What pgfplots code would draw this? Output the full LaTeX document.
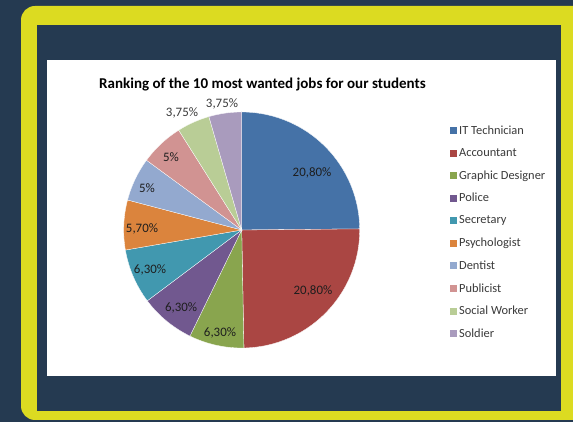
\documentclass[border=0pt]{standalone}
\usepackage{fontspec}
\setmainfont{Carlito}
\usepackage{pgfplots}
\pgfplotsset{compat=1.18}
\definecolor{navy}{HTML}{253A51}
\definecolor{yel}{HTML}{DCDB21}
\definecolor{cA}{HTML}{4572A7}
\definecolor{cB}{HTML}{AA4643}
\definecolor{cC}{HTML}{89A54E}
\definecolor{cD}{HTML}{71588F}
\definecolor{cE}{HTML}{4198AF}
\definecolor{cF}{HTML}{DB843D}
\definecolor{cG}{HTML}{93A9CF}
\definecolor{cH}{HTML}{D19392}
\definecolor{cI}{HTML}{B9CD96}
\definecolor{cJ}{HTML}{A99BBD}
\definecolor{lbl}{HTML}{1E1E1E}
\definecolor{leg}{HTML}{3A3A3A}
\begin{document}
\begin{tikzpicture}
\path[use as bounding box] (0,0) rectangle (573pt,422pt);
\clip (0,0) rectangle (573pt,422pt);
\fill[navy] (0,0) rectangle (573pt,422pt);
\fill[yel, rounded corners=14pt] (21pt,2pt) rectangle (640pt,416pt);
\fill[navy] (37pt,11pt) rectangle (561pt,397pt);
\fill[white] (47pt,46pt) rectangle (556pt,362pt);
% values (percent labels) -> angles, clockwise from 90 deg
\pgfmathsetmacro{\tot}{20.8+20.8+6.3+6.3+6.3+5.7+5+5+3.75+3.75}
\pgfmathsetmacro{\aA}{90}
\pgfmathsetmacro{\aB}{\aA-20.8*360/\tot}
\pgfmathsetmacro{\aC}{\aB-20.8*360/\tot}
\pgfmathsetmacro{\aD}{\aC-6.3*360/\tot}
\pgfmathsetmacro{\aE}{\aD-6.3*360/\tot}
\pgfmathsetmacro{\aF}{\aE-6.3*360/\tot}
\pgfmathsetmacro{\aG}{\aF-5.7*360/\tot}
\pgfmathsetmacro{\aH}{\aG-5*360/\tot}
\pgfmathsetmacro{\aI}{\aH-5*360/\tot}
\pgfmathsetmacro{\aJ}{\aI-3.75*360/\tot}
\pgfmathsetmacro{\aK}{-270}
\begin{axis}[
  at={(241.7pt,192pt)}, anchor=center,
  scale only axis, width=236pt, height=236pt,
  xmin=-1, xmax=1, ymin=-1, ymax=1,
  hide axis, clip=false,
  title={\fontsize{15}{17}\selectfont\bfseries Ranking of the 10 most wanted jobs for our students},
  title style={at={(axis description cs:0.588,1.093)}, anchor=center, text=black},
  legend cell align=left,
  legend style={draw=none, fill=none, at={(axis description cs:1.3825,0.951)}, anchor=north west,
    font=\fontsize{12.4}{14}\selectfont, text=leg, row sep=8.6pt, inner sep=0pt,
    nodes={inner sep=2pt}},
  legend image code/.code={\path[#1, draw=none] (0pt,-3.5pt) rectangle (7pt,3.5pt);},
  every axis plot/.append style={draw=white, line width=0.3pt, samples=60},
]
\addplot[fill=cA, domain=\aB:\aA] ({cos(x)},{sin(x)}) -- (axis cs:0,0) -- cycle;
\addlegendentry{IT Technician}
\addplot[fill=cB, domain=\aC:\aB] ({cos(x)},{sin(x)}) -- (axis cs:0,0) -- cycle;
\addlegendentry{Accountant}
\addplot[fill=cC, domain=\aD:\aC] ({cos(x)},{sin(x)}) -- (axis cs:0,0) -- cycle;
\addlegendentry{Graphic Designer}
\addplot[fill=cD, domain=\aE:\aD] ({cos(x)},{sin(x)}) -- (axis cs:0,0) -- cycle;
\addlegendentry{Police}
\addplot[fill=cE, domain=\aF:\aE] ({cos(x)},{sin(x)}) -- (axis cs:0,0) -- cycle;
\addlegendentry{Secretary}
\addplot[fill=cF, domain=\aG:\aF] ({cos(x)},{sin(x)}) -- (axis cs:0,0) -- cycle;
\addlegendentry{Psychologist}
\addplot[fill=cG, domain=\aH:\aG] ({cos(x)},{sin(x)}) -- (axis cs:0,0) -- cycle;
\addlegendentry{Dentist}
\addplot[fill=cH, domain=\aI:\aH] ({cos(x)},{sin(x)}) -- (axis cs:0,0) -- cycle;
\addlegendentry{Publicist}
\addplot[fill=cI, domain=\aJ:\aI] ({cos(x)},{sin(x)}) -- (axis cs:0,0) -- cycle;
\addlegendentry{Social Worker}
\addplot[fill=cJ, domain=\aK:\aJ] ({cos(x)},{sin(x)}) -- (axis cs:0,0) -- cycle;
\addlegendentry{Soldier}
\begin{scope}[every node/.style={font=\fontsize{12.9}{14}\selectfont, text=lbl}]
\node at (axis cs:0.596,0.483) {20,80\%};
\node at (axis cs:0.604,-0.517) {20,80\%};
\node at (axis cs:-0.184,-0.873) {6,30\%};
\node at (axis cs:-0.514,-0.661) {6,30\%};
\node at (axis cs:-0.777,-0.339) {6,30\%};
\node at (axis cs:-0.845,0.008) {5,70\%};
\node at (axis cs:-0.803,0.356) {5\%};
\node at (axis cs:-0.599,0.619) {5\%};
\node[text=leg] at (axis cs:-0.506,0.992) {3,75\%};
\node[text=leg] at (axis cs:-0.167,1.068) {3,75\%};
\end{scope}
\end{axis}
\end{tikzpicture}
\end{document}
